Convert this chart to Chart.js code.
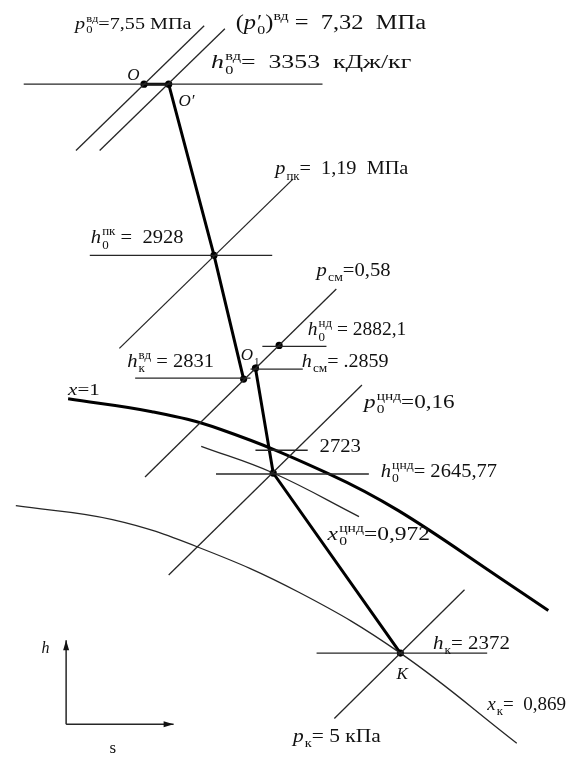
<!DOCTYPE html>
<html lang="ru">
<head>
<meta charset="utf-8">
<title>h–s диаграмма процесса расширения пара</title>
<script src="https://cdn.jsdelivr.net/npm/chart.js@4/dist/chart.umd.min.js"></script>
<style>
  html, body { margin: 0; padding: 0; background: #fff; }
  #wrap { width: 575px; height: 763px; position: relative; }
</style>
</head>
<body>
<div id="wrap"><canvas id="hsChart"></canvas></div>
<script>
// Schematic h-s diagram (not to scale). s grows to the right,
// h is drawn on a reversed axis so the frame reads top-down.
const S_MAX = 575;
const H_MAX = 763;
const SERIF = '"Liberation Serif", "Times New Roman", serif';

// ── State points ──────────────────────────────────────────────────────
// O, O', 0пк, к(вд), O1, 0нд, 0цнд, K
const nodeS = [142, 167, 213, 243, 255, 279, 273, 402];
const nodeH = [81, 81, 254, 379, 368, 345, 474, 656];

// expansion lines, as indices into the node arrays
const hpProcess = [0, 1, 2, 3];  // ЦВД + ЦСД
const lpProcess = [4, 6, 7];     // after mixing → ЦНД → condenser

// ── Isobars (straight segments) ───────────────────────────────────────
const isobarP0    = [[203, 22], [73, 148]];
const isobarP0dr  = [[224, 25], [97, 148]];
const isobarPpk   = [[293, 177], [117, 348]];
const isobarPsm   = [[337, 288], [143, 478]];
const isobarP0lp  = [[363, 385], [167, 577]];
const isobarPk    = [[467, 592], [335, 722]];

// ── Enthalpy levels (horizontal segments) ─────────────────────────────
const levelH0hp = [[20, 81], [323, 81]];
const levelH0pk = [[87, 254], [272, 254]];
const levelH0ld = [[262, 346], [327, 346]];
const levelHsm  = [[250, 369], [303, 369]];
const levelHkhp = [[133, 378], [250, 378]];
const level2723 = [[255, 451], [308, 451]];
const levelH0lp = [[215, 475], [370, 475]];
const levelHk   = [[317, 656], [490, 656]];

// ── Dryness lines (curves) ────────────────────────────────────────────
const satS  = [65, 150, 220, 330, 400, 503, 552];
const satH  = [399, 412, 430, 475, 512, 580, 613];
const x0S   = [200, 273, 360];
const x0H   = [447, 474, 518];
const xkS   = [12, 110, 197, 300, 402, 520];
const xkH   = [507, 521, 549, 595, 656, 747];

// ── Axis glyph ────────────────────────────────────────────────────────
const axisH = [[63, 728], [63, 643]];
const axisS = [[63, 728], [172, 728]];

// ── Labels: [s, h, size, right edge, parts]
// part style: n = upright, i = italic, b = subscript, p = superscript, r = prime
const labels = [
  [72, 25, 16, 190, [['p', 'i'], ['0', 'b'], ['вд', 'p'], ['=7,55', 'n'], [' МПа', 'n']]],
  [235, 25, 20, 428, [['(', 'n'], ['p', 'i'], ['0', 'b'], ['′', 'r'], [')', 'n'], ['вд', 'p'], [' =  7,32  МПа', 'n']]],
  [210, 65, 19, 413, [['h', 'i'], ['0', 'b'], ['вд', 'p'], ['=  3353  кДж/кг', 'n']]],
  [125, 77, 17, 0, [['O', 'i']]],
  [177, 103, 17, 0, [['O′', 'i']]],
  [275, 172, 19, 410, [['p', 'i'], ['пк', 'b'], ['=  1,19  МПа', 'n']]],
  [88, 242, 19, 182, [['h', 'i'], ['0', 'b'], ['пк', 'p'], [' =  2928', 'n']]],
  [317, 275, 18, 392, [['p', 'i'], ['см', 'b'], ['=0,58', 'n']]],
  [308, 335, 18, 408, [['h', 'i'], ['0', 'b'], ['нд', 'p'], [' = 2882,1', 'n']]],
  [125, 367, 19, 213, [['h', 'i'], ['к', 'b'], ['вд', 'p'], [' = 2831', 'n']]],
  [240, 360, 17, 0, [['O', 'i'], ['1', 'b']]],
  [302, 367, 18, 390, [['h', 'i'], ['см', 'b'], ['= .2859', 'n']]],
  [65, 395, 16, 97, [['x', 'i'], ['=1', 'n']]],
  [365, 408, 18, 457, [['p', 'i'], ['0', 'b'], ['цнд', 'p'], ['=0,16', 'n']]],
  [320, 453, 18, 362, [['2723', 'n']]],
  [382, 478, 18, 500, [['h', 'i'], ['0', 'b'], ['цнд', 'p'], ['= 2645,77', 'n']]],
  [328, 542, 18, 432, [['x', 'i'], ['0', 'b'], ['цнд', 'p'], ['=0,972', 'n']]],
  [435, 652, 19, 513, [['h', 'i'], ['к', 'b'], ['= 2372', 'n']]],
  [398, 682, 17, 0, [['K', 'i']]],
  [490, 713, 18, 570, [['x', 'i'], ['к', 'b'], ['=  0,869', 'n']]],
  [293, 746, 18, 382, [['p', 'i'], ['к', 'b'], ['= 5 кПа', 'n']]],
  [38, 656, 16, 0, [['h', 'i']]],
  [107, 757, 17, 0, [['s', 'n']]],
];

// ── Helpers ───────────────────────────────────────────────────────────
const pairs = arr => arr.map(([s, h]) => ({ x: s, y: h }));
const zipped = (xs, ys) => xs.map((s, i) => ({ x: s, y: ys[i] }));
const nodes = idx => idx.map(i => ({ x: nodeS[i], y: nodeH[i] }));

function thin(data, extra = {}) {
    return { data, showLine: true, borderColor: '#262626', borderWidth: 1.3,
             pointRadius: 0, tension: 0, clip: false, ...extra };
}
function thick(data, extra = {}) {
    return { data, showLine: true, borderColor: '#000', borderWidth: 3,
             pointRadius: 0, tension: 0, clip: false, ...extra };
}
const curve = { tension: 0.4 };

// lay out a run of text pieces with sub/superscripts; returns glyph runs + width
function layoutRich(ctx, parts, size) {
    const runs = [];
    let cx = 0, subX = null, subW = 0;
    parts.forEach(([t, st]) => {
        const small = st === 'b' || st === 'p';
        const fs = small ? Math.round(size * 0.64) : (st === 'r' ? Math.round(size * 0.9) : size);
        const font = `${st === 'i' ? 'italic ' : ''}${fs}px ${SERIF}`;
        ctx.font = font;
        const w = ctx.measureText(t).width;
        if (st === 'b') {
            runs.push({ t, font, x: cx + 1, dy: size * 0.28 });
            subX = cx + 1; subW = w; cx += w + 1;
        } else if (st === 'p' || st === 'r') {
            const x0 = subX !== null ? subX : cx;
            runs.push({ t, font, x: x0, dy: st === 'p' ? -size * 0.45 : -size * 0.02 });
            cx = subX !== null ? Math.max(cx, x0 + w) : cx + w;
            subX = null;
        } else {
            runs.push({ t, font, x: cx, dy: 0 });
            cx += w; subX = null;
        }
    });
    return { runs, width: cx };
}

function drawLabel(ctx, x, y, size, right, parts) {
    const { runs, width } = layoutRich(ctx, parts, size);
    const sx = right > x ? (right - x) / width : 1;
    ctx.save();
    ctx.translate(x, y);
    ctx.scale(sx, 1);
    runs.forEach(r => { ctx.font = r.font; ctx.fillText(r.t, r.x, r.dy); });
    ctx.restore();
}

function arrowHead(ctx, from, to) {
    const ang = Math.atan2(to.y - from.y, to.x - from.x);
    const len = 10, half = 3;
    ctx.save();
    ctx.translate(to.x, to.y);
    ctx.rotate(ang);
    ctx.beginPath();
    ctx.moveTo(0, 0);
    ctx.lineTo(-len, -half);
    ctx.lineTo(-len, half);
    ctx.closePath();
    ctx.fill();
    ctx.restore();
}

// labels and axis arrowheads, positioned through the chart scales
const annotations = {
    id: 'annotations',
    afterDatasetsDraw(chart) {
        const { ctx, scales: { x, y } } = chart;
        const px = ([s, h]) => ({ x: x.getPixelForValue(s), y: y.getPixelForValue(h) });
        ctx.save();
        ctx.fillStyle = '#111';
        arrowHead(ctx, px(axisH[0]), px(axisH[1]));
        arrowHead(ctx, px(axisS[0]), px(axisS[1]));
        ctx.textBaseline = 'alphabetic';
        labels.forEach(([s, h, size, right, parts]) => {
            const p = px([s, h]);
            const r = right ? x.getPixelForValue(right) : 0;
            drawLabel(ctx, p.x, p.y, size, r, parts);
        });
        ctx.restore();
    },
};

new Chart(document.getElementById('hsChart'), {
    type: 'scatter',
    data: {
        datasets: [
            thin(pairs(isobarP0)),
            thin(pairs(isobarP0dr)),
            thin(pairs(isobarPpk)),
            thin(pairs(isobarPsm)),
            thin(pairs(isobarP0lp)),
            thin(pairs(isobarPk)),
            thin(pairs(levelH0hp)),
            thin(pairs(levelH0pk)),
            thin(pairs(levelH0ld)),
            thin(pairs(levelHsm)),
            thin(pairs(levelHkhp)),
            thin(pairs(level2723)),
            thin(pairs(levelH0lp)),
            thin(pairs(levelHk)),
            thin(zipped(x0S, x0H), curve),
            thin(zipped(xkS, xkH), curve),
            thin(pairs(axisH), { borderWidth: 1.5 }),
            thin(pairs(axisS), { borderWidth: 1.5 }),
            thick(zipped(satS, satH), curve),
            thick(nodes(hpProcess)),
            thick(nodes(lpProcess)),
            { data: zipped(nodeS, nodeH), showLine: false, pointRadius: 3.6,
              pointBackgroundColor: '#000', pointBorderWidth: 0, clip: false },
        ],
    },
    options: {
        responsive: true,
        maintainAspectRatio: false,
        animation: false,
        events: [],
        layout: { padding: 0 },
        plugins: { legend: { display: false }, tooltip: { enabled: false } },
        scales: {
            x: { type: 'linear', min: 0, max: S_MAX, display: false },
            y: { type: 'linear', min: 0, max: H_MAX, reverse: true, display: false },
        },
    },
    plugins: [annotations],
});
</script>
</body>
</html>
